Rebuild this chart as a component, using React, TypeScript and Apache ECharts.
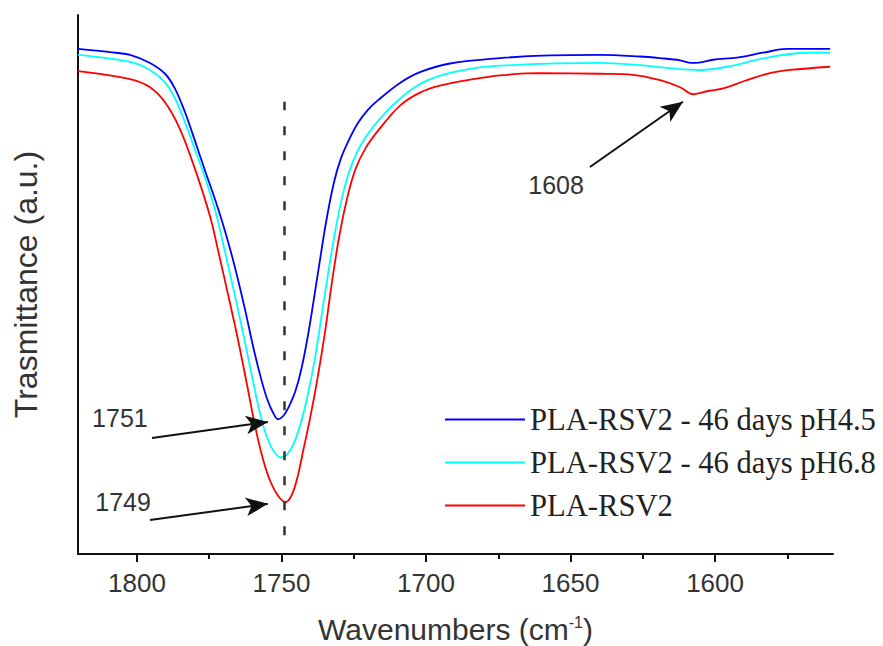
import React, { useEffect, useRef } from "react";
import * as echarts from "echarts";

// Wavenumber (cm-1), transmittance (a.u.) pairs
const bluePH45: [number, number][] = [
  [1820.4, 93.7], [1809.3, 93.1], [1802.4, 92.6], [1795.5, 91.1], [1790.3, 89.1],
  [1786.9, 86.4], [1783.4, 82.0], [1779.9, 76.6], [1776.5, 71.2], [1773.0, 65.8],
  [1769.6, 60.0], [1766.2, 53.4], [1762.8, 45.8], [1759.6, 38.0], [1757.0, 32.4],
  [1755.0, 28.8], [1752.9, 26.2], [1751.2, 25.0], [1749.4, 25.6], [1747.4, 27.4],
  [1745.2, 30.2], [1743.0, 34.6], [1740.5, 41.6], [1737.4, 52.1], [1734.6, 61.5],
  [1732.0, 68.6], [1729.5, 73.3], [1726.5, 77.0], [1723.5, 80.0], [1720.1, 82.4],
  [1716.6, 84.2], [1709.0, 87.4], [1702.1, 89.4], [1691.7, 91.0], [1674.4, 92.0],
  [1657.1, 92.5], [1639.8, 92.6], [1626.0, 92.3], [1619.0, 92.0], [1612.1, 91.6],
  [1608.2, 91.1], [1605.0, 91.2], [1600.7, 91.7], [1592.4, 92.1], [1583.4, 93.0],
  [1575.1, 93.7], [1560.2, 93.7],
];

const cyanPH68: [number, number][] = [
  [1820.4, 92.6], [1802.4, 91.3], [1795.5, 89.8], [1790.3, 87.5], [1786.9, 84.6],
  [1783.4, 80.1], [1779.9, 75.0], [1776.5, 69.9], [1773.0, 63.9], [1770.2, 57.6],
  [1766.8, 49.6], [1763.3, 41.0], [1759.9, 32.2], [1757.4, 26.0], [1755.0, 21.6],
  [1752.6, 19.0], [1750.2, 17.9], [1748.2, 18.4], [1746.0, 20.2], [1743.8, 23.4],
  [1741.2, 28.8], [1738.4, 36.4], [1734.9, 48.5], [1731.5, 59.6], [1728.4, 67.6],
  [1725.0, 73.2], [1721.1, 77.2], [1714.2, 81.8], [1705.5, 86.0], [1697.6, 88.3],
  [1685.8, 89.9], [1674.4, 90.6], [1639.8, 91.1], [1626.0, 90.7], [1616.6, 90.2],
  [1605.2, 89.8], [1595.8, 90.4], [1582.0, 92.1], [1568.2, 93.0], [1560.2, 93.0],
];

const redRef: [number, number][] = [
  [1820.4, 89.6], [1802.4, 88.1], [1795.5, 86.6], [1790.3, 83.8], [1785.1, 78.8],
  [1779.9, 71.4], [1774.7, 62.6], [1771.8, 56.0], [1768.6, 48.4], [1765.3, 40.4],
  [1762.0, 31.6], [1759.0, 23.4], [1756.4, 17.6], [1753.8, 13.4], [1751.2, 10.8],
  [1748.6, 9.6], [1746.4, 11.0], [1744.4, 14.4], [1742.4, 19.4], [1740.1, 25.2],
  [1737.6, 32.4], [1735.0, 41.0], [1732.5, 50.6], [1730.0, 59.0], [1727.2, 66.2],
  [1724.4, 71.4], [1720.8, 75.4], [1715.9, 79.0], [1709.0, 83.2], [1702.1, 85.6],
  [1695.2, 86.9], [1683.7, 88.1], [1674.4, 88.8], [1660.6, 89.2], [1639.8, 89.1],
  [1628.4, 88.9], [1619.0, 87.9], [1612.1, 86.6], [1607.6, 85.3], [1602.4, 85.9],
  [1597.2, 86.4], [1589.6, 87.8], [1582.0, 89.1], [1574.0, 89.8], [1560.2, 90.4],
];

const seriesNames = [
  "PLA-RSV2 - 46 days pH4.5",
  "PLA-RSV2 - 46 days pH6.8",
  "PLA-RSV2",
];
const seriesColors = ["#0000ff", "#00ffff", "#ff0000"];

const majorTicks = [1800, 1750, 1700, 1650, 1600];
const minorTicks = [1775, 1725, 1675, 1625, 1575];
const xRange = [1559.2, 1820.4];

// annotations: label, label position, arrow tail, arrow head
const annotations: { text: string; at: [number, number]; from: [number, number]; to: [number, number] }[] = [
  { text: "1751", at: [1805.9, 25.2], from: [1794.8, 21.5], to: [1754.7, 24.5] },
  { text: "1749", at: [1804.8, 9.6], from: [1795.5, 6.3], to: [1754.7, 9.3] },
  { text: "1608", at: [1655.0, 68.5], from: [1643.3, 71.8], to: [1611.1, 83.9] },
];
const dashedLine = { x: 1749, y0: 3.5, y1: 83.9 };

const axisFont = "'Liberation Sans', Arial, sans-serif";

export default function App() {
  const ref = useRef<HTMLDivElement>(null);
  useEffect(() => {
    if (!ref.current) return;
    const chart = echarts.init(ref.current, undefined, { renderer: "svg" });
    const datasets = [bluePH45, cyanPH68, redRef];
    const series: any[] = datasets.map((d, i) => ({
      name: seriesNames[i],
      type: "line",
      data: d,
      symbol: "none",
      showSymbol: false,
      smooth: 0.35,
      lineStyle: { color: seriesColors[i], width: 1.8 },
      itemStyle: { color: seriesColors[i] },
      z: 3 - i,
    }));
    series[2].markLine = {
      silent: true,
      animation: false,
      label: { show: false },
      lineStyle: { color: "#111", width: 2, type: "solid" },
      symbol: ["none", "arrow"],
      symbolSize: [14, 22],
      data: annotations.map((a) => [
        { coord: a.from, symbol: "none" },
        { coord: a.to, symbol: "arrow" },
      ]),
    };
    series[2].markPoint = {
      silent: true,
      animation: false,
      symbol: "rect",
      symbolSize: 1,
      itemStyle: { color: "rgba(0,0,0,0)" },
      label: {
        show: true,
        position: "inside",
        color: "#333",
        fontSize: 25,
        fontFamily: axisFont,
        formatter: (p: any) => p.name,
      },
      data: annotations.map((a) => ({ name: a.text, coord: a.at })),
    };
    series[1].markLine = {
      silent: true,
      animation: false,
      label: { show: false },
      symbol: ["none", "none"],
      lineStyle: { color: "#333", width: 2.5, type: [9, 16] },
      data: [[{ coord: [dashedLine.x, dashedLine.y0] }, { coord: [dashedLine.x, dashedLine.y1] }]],
    };

    chart.setOption({
      animation: false,
      backgroundColor: "#fff",
      grid: { left: 78, right: 50, top: 15, bottom: 92, containLabel: false, outerBoundsMode: "none" },
      legend: {
        data: seriesNames.map((n) => ({ name: n, icon: "rect" })),
        orient: "vertical",
        left: 440,
        top: 399,
        itemWidth: 80,
        itemHeight: 2,
        itemGap: 12,
        selectedMode: false,
        textStyle: { fontFamily: "'Liberation Serif', 'Times New Roman', serif", fontSize: 30.6, color: "#222" },
      },
      xAxis: [
        {
          type: "value",
          inverse: true,
          min: xRange[0],
          max: xRange[1],
          name: "Wavenumbers (cm{sup|-1})",
          nameLocation: "middle",
          nameGap: 60,
          nameTextStyle: {
            fontFamily: axisFont,
            fontSize: 30,
            color: "#333",
            rich: { sup: { fontFamily: axisFont, fontSize: 16, color: "#333", verticalAlign: "top", padding: [0, 0, 14, 0] } },
          },
          axisLine: { show: true, onZero: false, lineStyle: { color: "#111", width: 2 } },
          axisTick: { show: true, inside: false, length: 8, lineStyle: { color: "#111", width: 2 }, customValues: majorTicks },
          axisLabel: {
            show: true,
            margin: 16,
            fontFamily: axisFont,
            fontSize: 26,
            color: "#333",
            customValues: majorTicks,
            formatter: (v: number) => String(Math.round(v)),
          },
          splitLine: { show: false },
        },
        {
          type: "value",
          inverse: true,
          position: "bottom",
          min: xRange[0],
          max: xRange[1],
          axisLine: { show: false },
          axisTick: { show: true, inside: false, length: 5, lineStyle: { color: "#111", width: 2 }, customValues: minorTicks },
          axisLabel: { show: false },
          splitLine: { show: false },
        },
      ],
      yAxis: {
        type: "value",
        min: 0,
        max: 100,
        name: "Trasmittance (a.u.)",
        nameLocation: "middle",
        nameGap: 36,
        nameTextStyle: { fontFamily: axisFont, fontSize: 32, color: "#333" },
        axisLine: { show: true, onZero: false, lineStyle: { color: "#111", width: 2 } },
        axisTick: { show: false },
        axisLabel: { show: false },
        splitLine: { show: false },
      },
      series,
    });
    return () => chart.dispose();
  }, []);
  return <div ref={ref} style={{ position: "absolute", left: 0, top: 0, width: 883, height: 646 }} />;
}
